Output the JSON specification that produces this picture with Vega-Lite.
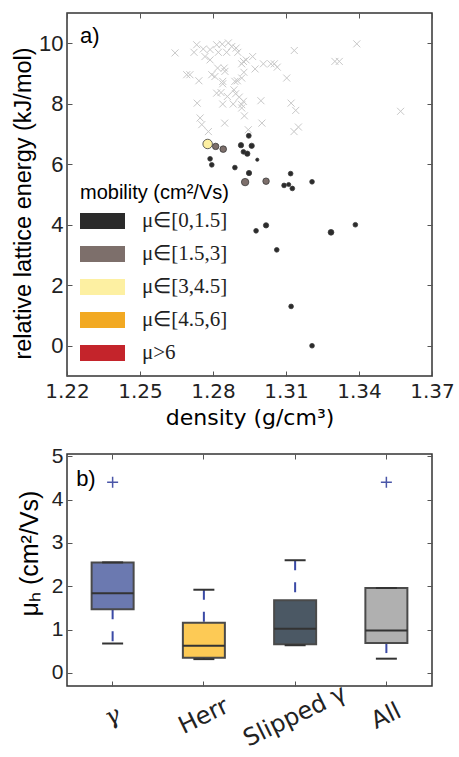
{
  "$schema": "https://vega.github.io/schema/vega-lite/v6.json",
  "background": "white",
  "padding": {"left": 10, "top": 11, "right": 5, "bottom": 5},
  "config": {
    "view": {"stroke": "#333333", "strokeWidth": 1.5},
    "axis": {"domain": false, "grid": false, "tickColor": "#555555", "tickSize": -5, "tickWidth": 1, "labelColor": "#222222", "titleColor": "#000000", "labelFontSize": 20, "titleFontSize": 20, "titleFontWeight": "normal", "labelOverlap": false, "labelFlush": false, "labelBound": false}
  },
  "datasets": {
    "crosses": [
      {"density": 1.2733, "energy": 9.95}, {"density": 1.2644, "energy": 9.68}, {"density": 1.2722, "energy": 9.70},
      {"density": 1.2760, "energy": 9.81}, {"density": 1.2788, "energy": 9.79}, {"density": 1.2815, "energy": 9.95},
      {"density": 1.2838, "energy": 9.97}, {"density": 1.2863, "energy": 10.01}, {"density": 1.2877, "energy": 9.89},
      {"density": 1.2895, "energy": 9.84}, {"density": 1.2822, "energy": 9.70}, {"density": 1.2856, "energy": 9.70},
      {"density": 1.2902, "energy": 9.70}, {"density": 1.2788, "energy": 9.45}, {"density": 1.2767, "energy": 9.56},
      {"density": 1.2925, "energy": 9.40}, {"density": 1.2936, "energy": 9.45}, {"density": 1.2963, "energy": 9.56},
      {"density": 1.3134, "energy": 9.76}, {"density": 1.3391, "energy": 9.98}, {"density": 1.3301, "energy": 9.40},
      {"density": 1.3319, "energy": 9.40}, {"density": 1.3007, "energy": 9.32}, {"density": 1.3038, "energy": 9.32},
      {"density": 1.3052, "energy": 9.32}, {"density": 1.3064, "energy": 9.21}, {"density": 1.2918, "energy": 9.32},
      {"density": 1.2973, "energy": 9.15}, {"density": 1.2819, "energy": 9.18}, {"density": 1.2846, "energy": 9.18},
      {"density": 1.2849, "energy": 9.07}, {"density": 1.2692, "energy": 8.96}, {"density": 1.2705, "energy": 8.96},
      {"density": 1.2795, "energy": 8.96}, {"density": 1.2808, "energy": 8.90}, {"density": 1.2927, "energy": 9.04},
      {"density": 1.2918, "energy": 8.85}, {"density": 1.2742, "energy": 8.76}, {"density": 1.2840, "energy": 8.74},
      {"density": 1.2890, "energy": 8.74}, {"density": 1.2900, "energy": 8.76}, {"density": 1.3103, "energy": 8.85},
      {"density": 1.2840, "energy": 8.66}, {"density": 1.2886, "energy": 8.46}, {"density": 1.2815, "energy": 8.35},
      {"density": 1.2833, "energy": 8.37}, {"density": 1.2859, "energy": 8.24}, {"density": 1.2893, "energy": 8.33},
      {"density": 1.2908, "energy": 8.22}, {"density": 1.2925, "energy": 8.08}, {"density": 1.2735, "energy": 8.02},
      {"density": 1.2840, "energy": 7.99}, {"density": 1.2883, "energy": 7.99}, {"density": 1.2918, "energy": 7.97},
      {"density": 1.2918, "energy": 7.86}, {"density": 1.2997, "energy": 8.10}, {"density": 1.3121, "energy": 8.02},
      {"density": 1.3140, "energy": 7.78}, {"density": 1.2929, "energy": 7.60}, {"density": 1.2747, "energy": 7.53},
      {"density": 1.2754, "energy": 7.31}, {"density": 1.2848, "energy": 7.36}, {"density": 1.3001, "energy": 7.36},
      {"density": 1.3151, "energy": 7.23}, {"density": 1.3133, "energy": 7.08}, {"density": 1.2781, "energy": 7.08},
      {"density": 1.2945, "energy": 7.14}, {"density": 1.3571, "energy": 7.75}
    ],
    "points": [
      {"density": 1.2947, "energy": 6.94, "mobility": 1.0, "range": "μ∈[0,1.5]"},
      {"density": 1.2915, "energy": 6.63, "mobility": 1.2, "range": "μ∈[0,1.5]"},
      {"density": 1.2959, "energy": 6.61, "mobility": 1.2, "range": "μ∈[0,1.5]"},
      {"density": 1.2925, "energy": 6.41, "mobility": 0.9, "range": "μ∈[0,1.5]"},
      {"density": 1.2941, "energy": 6.35, "mobility": 1.2, "range": "μ∈[0,1.5]"},
      {"density": 1.2982, "energy": 6.15, "mobility": 0.3, "range": "μ∈[0,1.5]"},
      {"density": 1.2788, "energy": 6.18, "mobility": 0.9, "range": "μ∈[0,1.5]"},
      {"density": 1.2795, "energy": 5.98, "mobility": 0.9, "range": "μ∈[0,1.5]"},
      {"density": 1.2890, "energy": 5.89, "mobility": 0.9, "range": "μ∈[0,1.5]"},
      {"density": 1.2948, "energy": 5.71, "mobility": 1.2, "range": "μ∈[0,1.5]"},
      {"density": 1.3119, "energy": 5.69, "mobility": 0.9, "range": "μ∈[0,1.5]"},
      {"density": 1.3092, "energy": 5.30, "mobility": 0.9, "range": "μ∈[0,1.5]"},
      {"density": 1.3111, "energy": 5.33, "mobility": 0.65, "range": "μ∈[0,1.5]"},
      {"density": 1.3126, "energy": 5.20, "mobility": 0.9, "range": "μ∈[0,1.5]"},
      {"density": 1.3207, "energy": 5.42, "mobility": 0.9, "range": "μ∈[0,1.5]"},
      {"density": 1.2977, "energy": 3.80, "mobility": 0.9, "range": "μ∈[0,1.5]"},
      {"density": 1.3018, "energy": 3.98, "mobility": 1.2, "range": "μ∈[0,1.5]"},
      {"density": 1.3285, "energy": 3.75, "mobility": 1.45, "range": "μ∈[0,1.5]"},
      {"density": 1.3385, "energy": 4.00, "mobility": 0.9, "range": "μ∈[0,1.5]"},
      {"density": 1.3062, "energy": 3.17, "mobility": 0.9, "range": "μ∈[0,1.5]"},
      {"density": 1.3121, "energy": 1.30, "mobility": 0.9, "range": "μ∈[0,1.5]"},
      {"density": 1.3207, "energy": 0.00, "mobility": 0.9, "range": "μ∈[0,1.5]"},
      {"density": 1.2811, "energy": 6.59, "mobility": 1.9, "range": "μ∈[1.5,3]"},
      {"density": 1.2842, "energy": 6.50, "mobility": 2.0, "range": "μ∈[1.5,3]"},
      {"density": 1.2932, "energy": 5.41, "mobility": 2.6, "range": "μ∈[1.5,3]"},
      {"density": 1.3018, "energy": 5.44, "mobility": 1.92, "range": "μ∈[1.5,3]"},
      {"density": 1.2778, "energy": 6.67, "mobility": 4.4, "range": "μ∈[3,4.5]"}
    ],
    "boxes": [
      {"cat": "γ", "lower": 0.68, "q1": 1.47, "median": 1.84, "q3": 2.55, "upper": 2.55},
      {"cat": "Herr", "lower": 0.32, "q1": 0.35, "median": 0.63, "q3": 1.16, "upper": 1.92},
      {"cat": "Slipped γ", "lower": 0.64, "q1": 0.66, "median": 1.02, "q3": 1.68, "upper": 2.6},
      {"cat": "All", "lower": 0.33, "q1": 0.69, "median": 0.98, "q3": 1.96, "upper": 1.96}
    ],
    "outliers": [
      {"cat": "γ", "value": 4.4},
      {"cat": "All", "value": 4.4}
    ],
    "label_a": [{"label": "a)", "density": 1.2253, "energy": 10.0}],
    "label_b": [{"label": "b)", "cat": "γ", "value": 4.32}]
  },
  "resolve": {"scale": {"color": "independent"}, "legend": {"color": "independent"}},
  "bounds": "flush",
  "spacing": 78,
  "vconcat": [
    {
      "width": 365,
      "height": 363,
      "layer": [
        {
          "layer": [
            {
              "data": {"name": "crosses"},
              "mark": {"type": "point", "shape": "M-1,-1L1,1M-1,1L1,-1", "filled": false, "stroke": "#c8c8c8", "strokeWidth": 1, "size": 49, "opacity": 1},
              "encoding": {
                "x": {"field": "density", "type": "quantitative", "scale": {"domain": [1.22, 1.37], "nice": false, "zero": false},
                  "axis": {"values": [1.22, 1.25, 1.28, 1.31, 1.34, 1.37], "format": ".2f", "title": "density (g/cm³)", "labelFont": "DejaVu Sans", "titleFont": "DejaVu Sans", "titleFontSize": 22, "labelPadding": 10, "titlePadding": 6}},
                "y": {"field": "energy", "type": "quantitative", "scale": {"domain": [-1, 11], "nice": false, "zero": false},
                  "axis": {"values": [0, 2, 4, 6, 8, 10], "title": "relative lattice energy (kJ/mol)", "labelFont": "Liberation Sans", "labelFontSize": 22, "titleFont": "Liberation Sans", "titleFontSize": 23.5, "labelPadding": 9, "titlePadding": 3, "titleY": 190}}
              }
            },
            {
              "data": {"name": "label_a"},
              "mark": {"type": "text", "align": "left", "baseline": "alphabetic", "font": "Liberation Sans", "fontSize": 22, "color": "#000000"},
              "encoding": {
                "x": {"field": "density", "type": "quantitative"},
                "y": {"field": "energy", "type": "quantitative"},
                "text": {"field": "label"}
              }
            }
          ]
        },
        {
          "data": {"name": "points"},
          "mark": {"type": "point", "filled": true, "stroke": "#3a3a3a", "strokeWidth": 0.8, "opacity": 1},
          "encoding": {
            "x": {"field": "density", "type": "quantitative", "axis": {"orient": "top", "values": [1.22, 1.25, 1.28, 1.31, 1.34, 1.37], "labels": false, "title": null}},
            "y": {"field": "energy", "type": "quantitative", "axis": {"orient": "right", "values": [0, 2, 4, 6, 8, 10], "labels": false, "title": null}},
            "color": {"field": "range", "type": "nominal",
              "scale": {"domain": ["μ∈[0,1.5]", "μ∈[1.5,3]", "μ∈[3,4.5]", "μ∈[4.5,6]", "μ>6"], "range": ["#2b2b2b", "#7d6f6b", "#fdf0a2", "#f2a922", "#c4242b"]},
              "legend": {"title": "mobility (cm²/Vs)", "orient": "none", "legendX": 13, "legendY": 170, "titleFont": "Liberation Sans", "titleFontSize": 20, "titleFontWeight": "normal", "titleColor": "#000000", "titlePadding": 6, "labelFont": "Liberation Serif", "labelFontSize": 21, "labelColor": "#222222", "symbolType": "M-1,-0.36H1V0.36H-1Z", "symbolSize": 2025, "symbolStrokeWidth": 0, "symbolOpacity": 1, "clipHeight": 24, "rowPadding": 9, "labelOffset": 17, "labelLimit": 200}},
            "size": {"field": "mobility", "type": "quantitative", "scale": {"domain": [0, 4.5], "range": [4.6, 92], "zero": false}, "legend": null}
          }
        }
      ],
      "resolve": {"axis": {"x": "independent", "y": "independent"}}
    },
    {
      "width": 365,
      "height": 232,
      "layer": [
        {
          "data": {"name": "boxes"},
          "layer": [
            {
              "mark": {"type": "rule", "color": "#3b4aa6", "strokeWidth": 2, "strokeDash": [10, 12]},
              "encoding": {
                "x": {"field": "cat", "type": "nominal", "sort": ["γ", "Herr", "Slipped γ", "All"], "scale": {"type": "band", "domain": ["γ", "Herr", "Slipped γ", "All"], "paddingInner": 0, "paddingOuter": 0},
                  "axis": {"title": null, "labelAngle": -26, "labelAlign": "center", "labelBaseline": "middle", "labelPadding": 35, "labelFontSize": 24, "labelFont": {"condition": {"test": "datum.value === 'γ'", "value": "DejaVu Serif"}, "value": "DejaVu Sans"}, "labelFontStyle": {"condition": {"test": "datum.value === 'γ'", "value": "italic"}, "value": "normal"}}},
                "y": {"field": "q1", "type": "quantitative", "scale": {"domain": [-0.3, 5.05], "nice": false, "zero": false},
                  "axis": {"values": [0, 1, 2, 3, 4, 5], "title": "μₕ (cm²/Vs)", "labelFont": "Liberation Sans", "labelFontSize": 21, "titleFont": "Liberation Sans", "titleFontSize": 25, "labelPadding": 9, "titlePadding": 9, "titleY": 99}},
                "y2": {"field": "lower"}
              }
            },
            {
              "mark": {"type": "rule", "color": "#3b4aa6", "strokeWidth": 2, "strokeDash": [10, 12]},
              "encoding": {
                "x": {"field": "cat", "type": "nominal"},
                "y": {"field": "upper", "type": "quantitative"},
                "y2": {"field": "q3"}
              }
            },
            {
              "mark": {"type": "bar", "size": 42, "stroke": "#4a4a4a", "strokeWidth": 2},
              "encoding": {
                "x": {"field": "cat", "type": "nominal"},
                "y": {"field": "q1", "type": "quantitative"},
                "y2": {"field": "q3"},
                "color": {"field": "cat", "type": "nominal", "scale": {"domain": ["γ", "Herr", "Slipped γ", "All"], "range": ["#6b79b0", "#fdca55", "#4b5864", "#b0b0b0"]}, "legend": null}
              }
            },
            {
              "mark": {"type": "tick", "color": "#333333", "thickness": 2, "size": 42, "opacity": 1},
              "encoding": {
                "x": {"field": "cat", "type": "nominal"},
                "y": {"field": "median", "type": "quantitative"}
              }
            },
            {
              "mark": {"type": "tick", "color": "#333333", "thickness": 2, "size": 21, "opacity": 1},
              "encoding": {
                "x": {"field": "cat", "type": "nominal"},
                "y": {"field": "lower", "type": "quantitative"}
              }
            },
            {
              "mark": {"type": "tick", "color": "#333333", "thickness": 2, "size": 21, "opacity": 1},
              "encoding": {
                "x": {"field": "cat", "type": "nominal"},
                "y": {"field": "upper", "type": "quantitative"}
              }
            },
            {
              "data": {"name": "label_b"},
              "mark": {"type": "text", "align": "left", "baseline": "alphabetic", "font": "Liberation Sans", "fontSize": 22, "color": "#000000"},
              "encoding": {
                "x": {"field": "cat", "type": "nominal", "bandPosition": 0.1},
                "y": {"field": "value", "type": "quantitative"},
                "text": {"field": "label"}
              }
            }
          ]
        },
        {
          "data": {"name": "outliers"},
          "mark": {"type": "point", "shape": "M-1,0H1M0,-1V1", "filled": false, "stroke": "#4a56a8", "strokeWidth": 1.5, "size": 121, "opacity": 1},
          "encoding": {
            "x": {"field": "cat", "type": "nominal", "axis": {"orient": "top", "labels": false, "title": null}},
            "y": {"field": "value", "type": "quantitative", "axis": {"orient": "right", "values": [0, 1, 2, 3, 4, 5], "labels": false, "title": null}}
          }
        }
      ],
      "resolve": {"axis": {"x": "independent", "y": "independent"}}
    }
  ]
}
